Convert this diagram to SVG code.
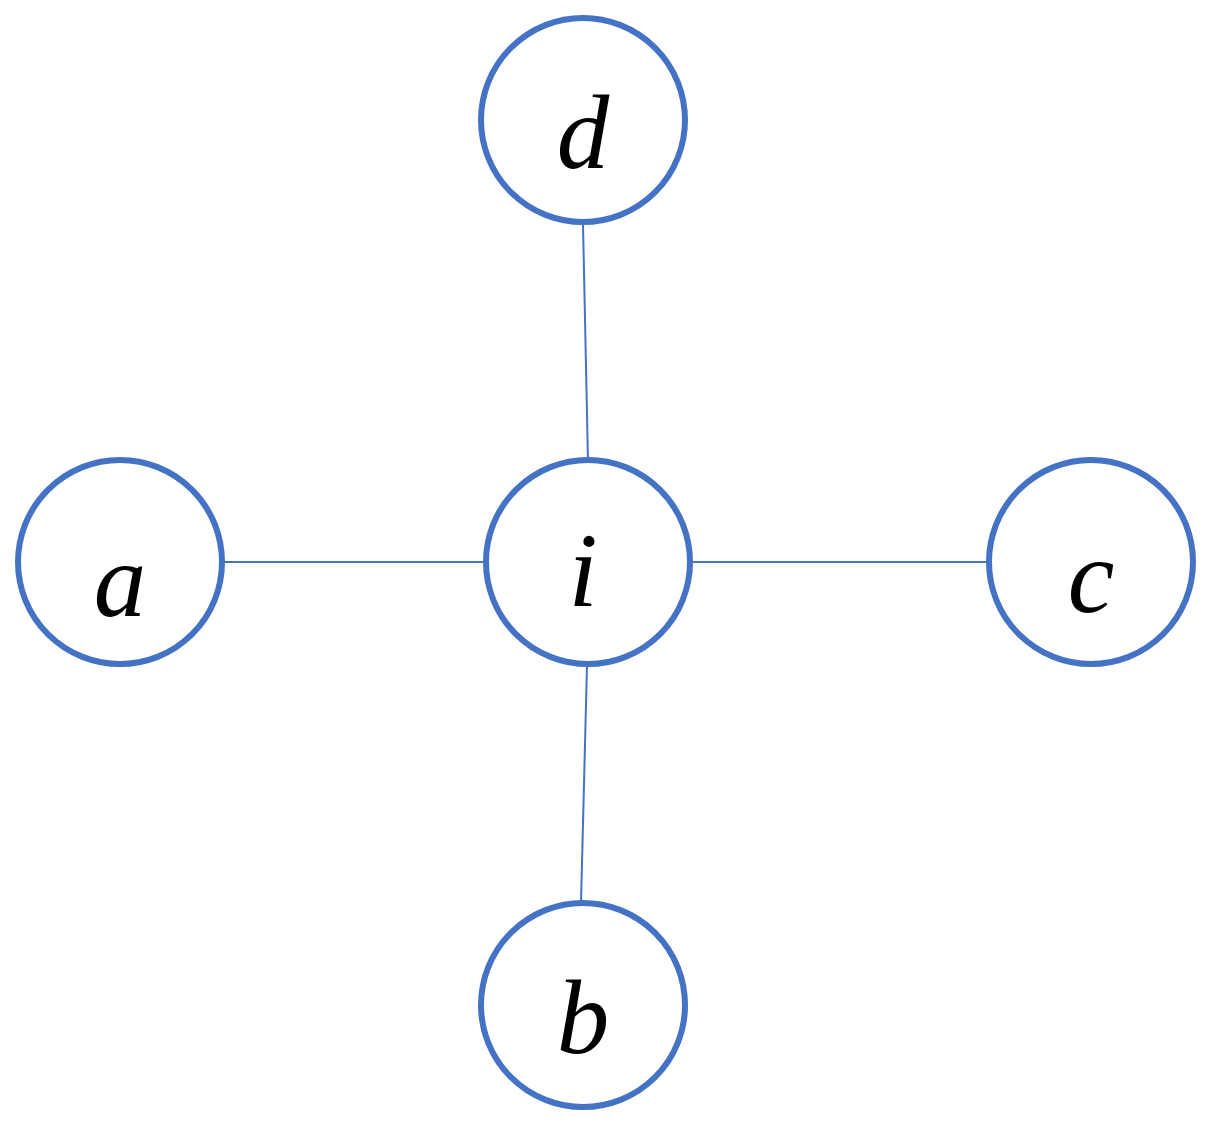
<svg xmlns="http://www.w3.org/2000/svg" width="1219" height="1132" viewBox="0 0 1219 1132">
<style>
.n{fill:#fff;stroke:#4472C4;stroke-width:6}
.t{font-family:"Liberation Serif",serif;font-style:italic;font-size:105px;text-anchor:middle;fill:#000}
.e{stroke:#4472C4;stroke-width:2;fill:none}
</style>
<rect width="1219" height="1132" fill="#fff"/>
<g id="edges">
<line class="e" x1="583" y1="224" x2="588" y2="461"/>
<line class="e" x1="587" y1="665" x2="581" y2="903"/>
<line class="e" x1="224" y1="562" x2="485" y2="562"/>
<line class="e" x1="691" y1="562" x2="988" y2="562"/>
</g>
<g id="d"><circle class="n" cx="583" cy="120" r="102"/><text class="t" x="583" y="168">d</text></g>
<g id="i"><circle class="n" cx="588" cy="562" r="102"/><text class="t" x="583" y="606">i</text></g>
<g id="a"><circle class="n" cx="120" cy="562" r="102"/><text class="t" x="120" y="616">a</text></g>
<g id="c"><circle class="n" cx="1091" cy="562" r="102"/><text class="t" x="1091" y="612">c</text></g>
<g id="b"><circle class="n" cx="583" cy="1005" r="102"/><text class="t" x="583" y="1053">b</text></g>
</svg>
